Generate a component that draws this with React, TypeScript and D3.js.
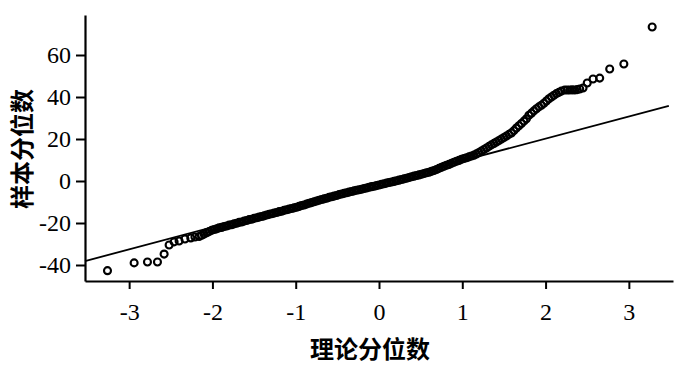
import * as d3 from "d3";
import { useEffect, useRef } from "react";

const width = 700;
const height = 366;
const margin = { left: 85, right: 27, top: 15, bottom: 85 };

// tick values on both axes
const xTicks = [-3, -2, -1, 0, 1, 2, 3];
const yTicks = [-40, -20, 0, 20, 40, 60];

const xTitle = "理论分位数";
const yTitle = "样本分位数";

// reference line (intercept, slope) and the span it is drawn over
const refIntercept = -0.9;
const refSlope = 10.55;
const refSpan = [-3.53, 3.48];

// lower tail: [theoretical quantile, sample quantile]
const lowTail: [number, number][] = [
  [-3.26, -42.7], [-2.94, -39.0], [-2.78, -38.6], [-2.66, -38.6],
  [-2.58, -34.8], [-2.52, -30.5], [-2.46, -29.0], [-2.4, -28.6],
  [-2.33, -27.6], [-2.26, -27.1], [-2.21, -26.7],
];

// dense body of the sample
const body: [number, number][] = [
  [-2.16, -26.4], [-2.13, -25.8], [-2.1, -25.3], [-2.07, -24.6], [-2.04, -24.1],
  [-2.01, -23.5], [-1.98, -23.1], [-1.95, -22.8], [-1.92, -22.3], [-1.89, -22.1],
  [-1.86, -21.7], [-1.83, -21.4], [-1.8, -21.0], [-1.77, -20.8], [-1.74, -20.4],
  [-1.71, -20.1], [-1.68, -19.7], [-1.65, -19.5], [-1.62, -19.1], [-1.59, -18.8],
  [-1.56, -18.4], [-1.53, -18.2], [-1.5, -17.8], [-1.47, -17.5], [-1.44, -17.2],
  [-1.41, -16.9], [-1.38, -16.6], [-1.35, -16.2], [-1.32, -15.9], [-1.29, -15.6],
  [-1.26, -15.3], [-1.23, -15.0], [-1.2, -14.6], [-1.17, -14.4], [-1.14, -14.0],
  [-1.11, -13.7], [-1.08, -13.4], [-1.05, -13.1], [-1.02, -12.8], [-0.99, -12.5],
  [-0.96, -12.1], [-0.93, -11.7], [-0.9, -11.4], [-0.87, -11.0], [-0.84, -10.6],
  [-0.81, -10.3], [-0.78, -9.9], [-0.75, -9.5], [-0.72, -9.2], [-0.69, -8.8],
  [-0.66, -8.5], [-0.63, -8.2], [-0.6, -7.8], [-0.57, -7.5], [-0.54, -7.2],
  [-0.51, -6.9], [-0.48, -6.5], [-0.45, -6.2], [-0.42, -5.9], [-0.39, -5.6],
  [-0.36, -5.3], [-0.33, -5.0], [-0.3, -4.7], [-0.27, -4.4], [-0.24, -4.2],
  [-0.21, -3.9], [-0.18, -3.6], [-0.15, -3.3], [-0.12, -3.0], [-0.09, -2.7],
  [-0.06, -2.5], [-0.03, -2.2], [0.0, -1.9], [0.03, -1.6], [0.06, -1.3],
  [0.09, -1.0], [0.12, -0.7], [0.15, -0.5], [0.18, -0.2], [0.21, 0.1],
  [0.24, 0.4], [0.27, 0.7], [0.3, 1.0], [0.33, 1.3], [0.36, 1.7],
  [0.39, 2.0], [0.42, 2.3], [0.45, 2.6], [0.48, 2.9], [0.51, 3.2],
  [0.54, 3.6], [0.57, 3.9], [0.6, 4.2], [0.63, 4.6], [0.66, 5.0],
  [0.69, 5.5], [0.72, 6.0], [0.75, 6.5], [0.78, 7.0], [0.81, 7.5],
  [0.84, 7.9], [0.87, 8.4], [0.9, 8.9], [0.93, 9.4], [0.96, 9.8],
  [0.99, 10.3], [1.02, 10.7], [1.05, 11.1], [1.08, 11.5], [1.11, 11.9],
  [1.14, 12.3], [1.17, 12.9], [1.2, 13.6], [1.23, 14.3], [1.26, 15.0],
  [1.29, 15.7], [1.32, 16.5], [1.35, 17.2], [1.38, 17.9], [1.41, 18.6],
  [1.44, 19.3], [1.47, 20.0], [1.5, 20.7], [1.53, 21.4], [1.56, 22.2],
  [1.59, 22.9], [1.62, 24.0], [1.65, 25.2], [1.68, 26.3], [1.71, 27.4],
  [1.74, 28.5], [1.77, 29.6], [1.8, 31.3], [1.83, 32.3], [1.86, 33.4],
  [1.89, 34.4], [1.92, 35.3], [1.95, 36.1], [1.98, 37.0], [2.01, 38.1],
  [2.04, 39.2], [2.07, 40.0], [2.1, 40.8], [2.13, 41.6], [2.16, 42.2],
  [2.19, 42.8],
];

// upper tail
const highTail: [number, number][] = [
  [2.23, 43.3], [2.26, 43.3], [2.29, 43.3], [2.32, 43.4], [2.35, 43.3],
  [2.38, 43.5], [2.41, 43.8], [2.45, 44.3], [2.5, 46.7], [2.57, 48.6],
  [2.65, 49.0], [2.77, 53.3], [2.94, 55.7], [3.28, 73.3],
];

const QQPlot = () => {
  const svgRef = useRef<SVGSVGElement>(null);

  useEffect(() => {
    const svg = d3.select(svgRef.current);
    svg.selectAll("*").remove();

    const xScale = d3
      .scaleLinear()
      .domain([-3.53, 3.53])
      .range([margin.left, width - margin.right]);
    const yScale = d3
      .scaleLinear()
      .domain([-47.62, 79.05])
      .range([height - margin.bottom, margin.top]);

    const points = [...lowTail, ...body, ...highTail];

    // reference line
    svg
      .append("line")
      .attr("x1", xScale(refSpan[0]))
      .attr("y1", yScale(refIntercept + refSlope * refSpan[0]))
      .attr("x2", xScale(refSpan[1]))
      .attr("y2", yScale(refIntercept + refSlope * refSpan[1]))
      .attr("stroke", "#000")
      .attr("stroke-width", 1.8);

    svg
      .append("g")
      .selectAll("circle")
      .data(points)
      .join("circle")
      .attr("cx", (d) => xScale(d[0]))
      .attr("cy", (d) => yScale(d[1]))
      .attr("r", 3.5)
      .attr("fill", "none")
      .attr("stroke", "#000")
      .attr("stroke-width", 2.1);

    // x-axis
    const xAxis = svg
      .append("g")
      .attr("transform", `translate(0, ${height - margin.bottom})`)
      .call(
        d3
          .axisBottom(xScale)
          .tickValues(xTicks)
          .tickSize(8)
          .tickSizeOuter(0)
          .tickPadding(14)
          .tickFormat((d) => String(d))
      );

    // y-axis
    const yAxis = svg
      .append("g")
      .attr("transform", `translate(${margin.left}, 0)`)
      .call(
        d3
          .axisLeft(yScale)
          .tickValues(yTicks)
          .tickSize(9)
          .tickSizeOuter(0)
          .tickPadding(5)
          .tickFormat((d) => String(d))
      );

    [xAxis, yAxis].forEach((g) => {
      g.select(".domain").attr("stroke-width", 2.2);
      g.selectAll(".tick line").attr("stroke-width", 2);
      g.selectAll(".tick text")
        .attr("font-family", "'Liberation Serif', serif")
        .attr("font-size", 24)
        .attr("fill", "#000");
    });

    svg
      .append("text")
      .attr("x", 370)
      .attr("y", 358)
      .attr("text-anchor", "middle")
      .attr("font-family", "'Noto Sans CJK SC', sans-serif")
      .attr("font-weight", 700)
      .attr("font-size", 24)
      .text(xTitle);

    svg
      .append("text")
      .attr("transform", `translate(31, 149) rotate(-90)`)
      .attr("text-anchor", "middle")
      .attr("font-family", "'Noto Sans CJK SC', sans-serif")
      .attr("font-weight", 700)
      .attr("font-size", 24)
      .text(yTitle);
  }, []);

  return (
    <svg
      ref={svgRef}
      width={width}
      height={height}
      style={{ position: "absolute", left: 0, top: 0, background: "#fff" }}
    />
  );
};

export default function App() {
  return <QQPlot />;
}
